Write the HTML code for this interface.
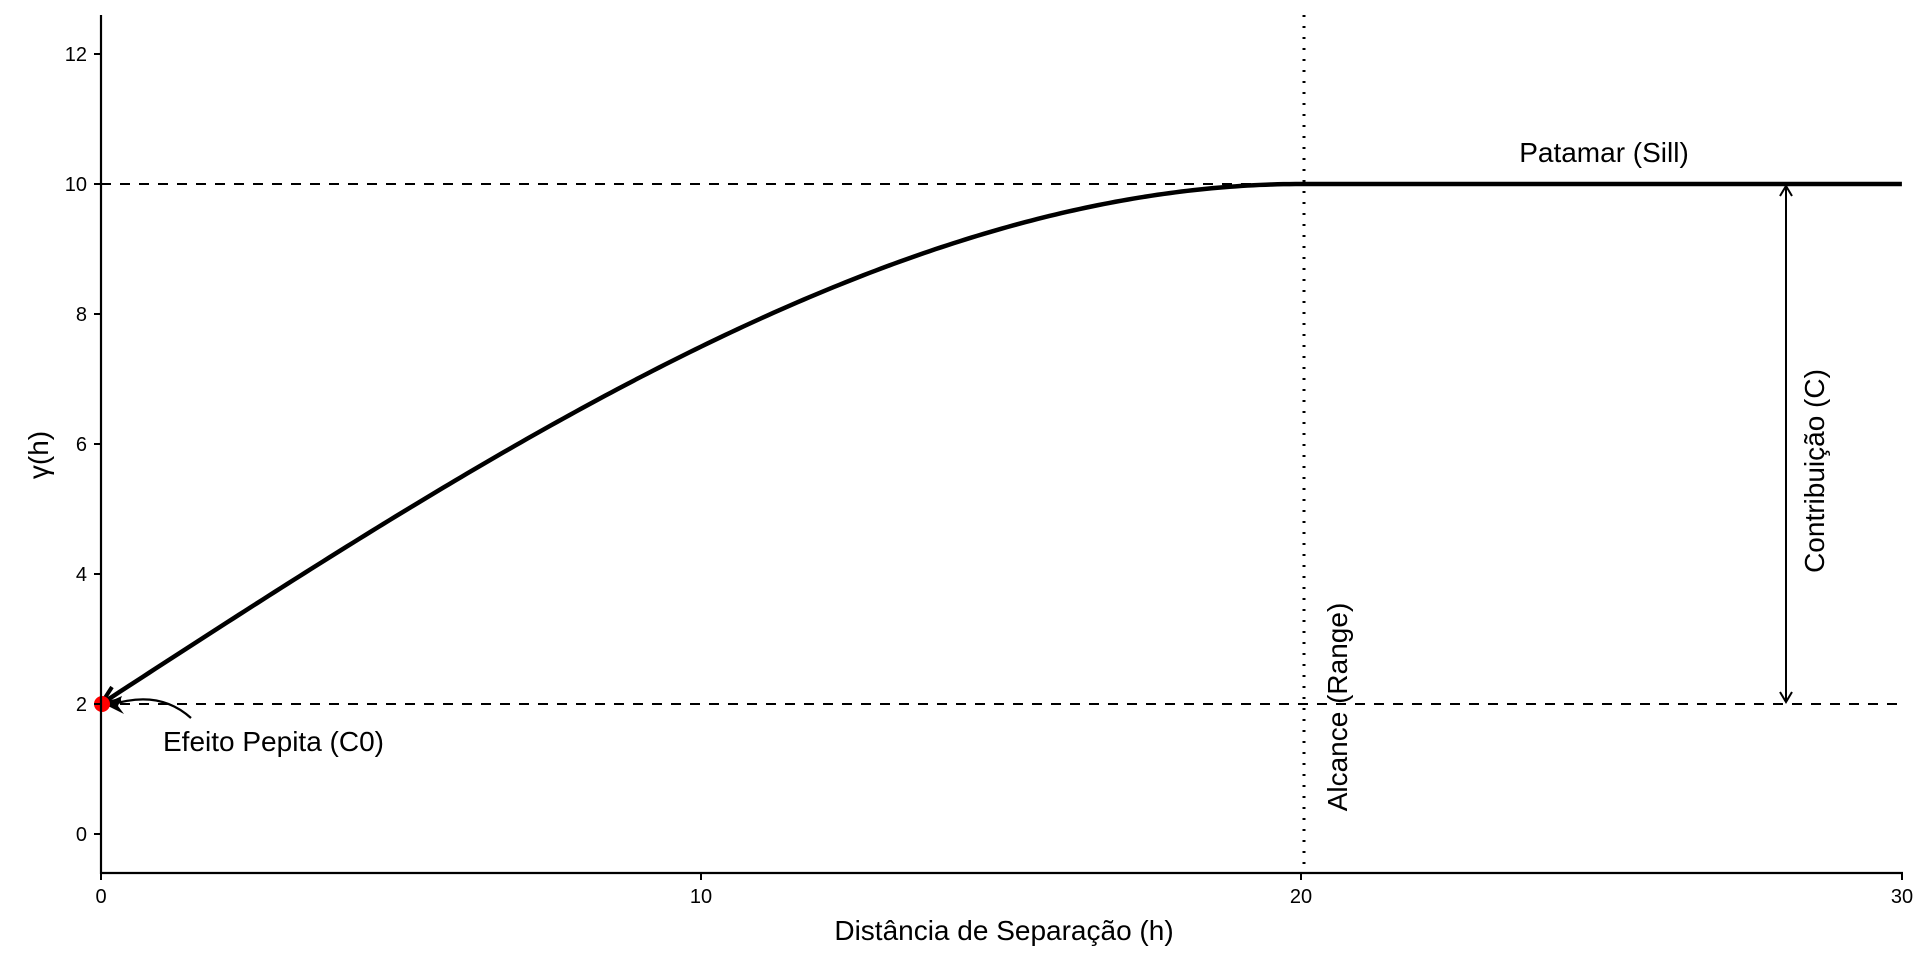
<!DOCTYPE html>
<html><head><meta charset="utf-8"><style>
html,body{margin:0;padding:0;background:#fff}
svg{display:block;font-family:"Liberation Sans",Arial,sans-serif}
</style></head><body>
<svg id="s" width="1920" height="960" viewBox="0 0 1920 960" xmlns="http://www.w3.org/2000/svg">
<defs>
<marker id="ah" markerWidth="14" markerHeight="14" refX="11" refY="7" orient="auto-start-reverse" markerUnits="userSpaceOnUse">
<path d="M1,1 L11,7 L1,13" fill="none" stroke="#000" stroke-width="2"/>
</marker>
</defs>
<line x1="101" y1="704" x2="1902" y2="704" stroke="#000" stroke-width="2" stroke-dasharray="10,9"/>
<line x1="101" y1="184" x2="1902" y2="184" stroke="#000" stroke-width="2" stroke-dasharray="10,9"/>
<line x1="1304" y1="15" x2="1304" y2="873" stroke="#000" stroke-width="3" stroke-dasharray="2,9"/>
<path id="curve" d="" fill="none" stroke="#000" stroke-width="4.5"/>
<path d="M101,704 L121,700 M101,704 L112,687" stroke="#000" stroke-width="4" fill="none"/>
<line x1="1786" y1="186" x2="1786" y2="702" stroke="#000" stroke-width="2" marker-start="url(#ah)" marker-end="url(#ah)"/>
<path d="M191,718 Q160,690 114,704" fill="none" stroke="#000" stroke-width="2.2"/>
<path d="M104,704 L122,696 L118,706 L124,714 Z" fill="#000"/>
<circle cx="102" cy="704" r="8" fill="#f00"/>
<line x1="101" y1="15" x2="101" y2="874" stroke="#000" stroke-width="2.2"/>
<line x1="100" y1="873" x2="1903" y2="873" stroke="#000" stroke-width="2.2"/>
<g stroke="#000" stroke-width="2">
<line x1="94" y1="834" x2="101" y2="834"/><line x1="94" y1="704" x2="101" y2="704"/>
<line x1="94" y1="574" x2="101" y2="574"/><line x1="94" y1="444" x2="101" y2="444"/>
<line x1="94" y1="314" x2="101" y2="314"/><line x1="94" y1="184" x2="101" y2="184"/>
<line x1="94" y1="54" x2="101" y2="54"/>
<line x1="101" y1="873" x2="101" y2="880"/><line x1="701" y1="873" x2="701" y2="880"/>
<line x1="1301" y1="873" x2="1301" y2="880"/><line x1="1902" y1="873" x2="1902" y2="880"/>
</g>
<g font-size="20" text-anchor="end" fill="#000">
<text x="87" y="841">0</text><text x="87" y="711">2</text><text x="87" y="581">4</text>
<text x="87" y="451">6</text><text x="87" y="321">8</text><text x="87" y="191">10</text><text x="87" y="61">12</text>
</g>
<g font-size="20" text-anchor="middle" fill="#000">
<text x="101" y="903">0</text><text x="701" y="903">10</text><text x="1301" y="903">20</text><text x="1902" y="903">30</text>
</g>
<text x="1004" y="940" font-size="28" text-anchor="middle">Distância de Separação (h)</text>
<text transform="translate(48,455) rotate(-90)" font-size="28" text-anchor="middle">γ(h)</text>
<text x="1604" y="162" font-size="28" text-anchor="middle">Patamar (Sill)</text>
<text transform="translate(1824,471) rotate(-90)" font-size="28" text-anchor="middle">Contribuição (C)</text>
<text transform="translate(1347,707) rotate(-90)" font-size="28" text-anchor="middle">Alcance (Range)</text>
<text x="163" y="751" font-size="28">Efeito Pepita (C0)</text>
</svg>
<script>
var d="";
for(var i=0;i<=300;i++){var h=i*0.1;var g=h<20?2+8*(1.5*h/20-0.5*Math.pow(h/20,3)):10;
var x=101+60.03*h,y=834-65*g;d+=(i?"L":"M")+x.toFixed(2)+","+y.toFixed(2);}
document.getElementById("curve").setAttribute("d",d);
</script>
</body></html>
